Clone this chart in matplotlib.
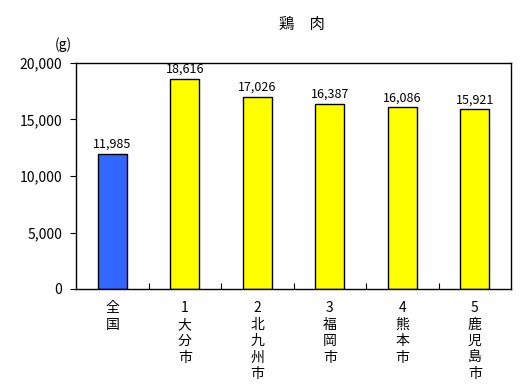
import matplotlib
matplotlib.use("Agg")
import matplotlib.pyplot as plt
import numpy as np

plt.rcParams['font.family'] = ['Noto Sans CJK JP', 'DejaVu Sans']

title = "鶏　肉"
unit = "(g)"
categories = ["全国", "1\n大分市", "2\n北九州市", "3\n福岡市", "4\n熊本市", "5\n鹿児島市"]
values = [11985, 18616, 17026, 16387, 16086, 15921]
colors = ["#3366FF", "#FFFF00", "#FFFF00", "#FFFF00", "#FFFF00", "#FFFF00"]


def vertical(label):
    # stack each character on its own line, keeping the rank number whole
    lines = label.split("\n")
    out = []
    for ln in lines:
        if ln.isdigit():
            out.append(ln)
        else:
            out.extend(list(ln))
    return "\n".join(out)


fig = plt.figure(figsize=(5.2, 3.92), dpi=100)
ax = fig.add_axes([76 / 520, 1 - 289 / 392, (511 - 76) / 520, (289 - 63) / 392])

ind = np.arange(len(values))
ax.bar(ind, values, width=0.4, color=colors, edgecolor="black", linewidth=1.0)
for i, v in enumerate(values):
    ax.text(i, v + 250, "{:,}".format(v), ha="center", va="bottom", fontsize=9)

ax.set_xlim(-0.5, len(values) - 0.5)
ax.set_ylim(0, 20000)
ax.set_yticks(np.arange(0, 20001, 5000))
ax.set_yticklabels(["{:,}".format(int(t)) for t in np.arange(0, 20001, 5000)], fontsize=10)
ax.tick_params(axis="y", direction="out", length=4, width=0.8, pad=6)

ax.set_xticks(ind)
ax.set_xticklabels([])
ax.tick_params(axis="x", which="major", length=0)
ax.set_xticks(ind[:-1] + 0.5, minor=True)
ax.tick_params(axis="x", which="minor", direction="in", length=4, width=0.8)

for i, c in enumerate(categories):
    ax.text(i, -0.055, vertical(c), transform=ax.get_xaxis_transform(),
            ha="center", va="top", fontsize=10, linespacing=1.22)

for s in ax.spines.values():
    s.set_linewidth(1.0)

fig.text(302 / 520, 1 - 24 / 392, title, ha="center", va="center", fontsize=11)
fig.text(63 / 520, 1 - 45 / 392, unit, ha="center", va="center", fontsize=10)

fig.savefig("out.png", dpi=100)
